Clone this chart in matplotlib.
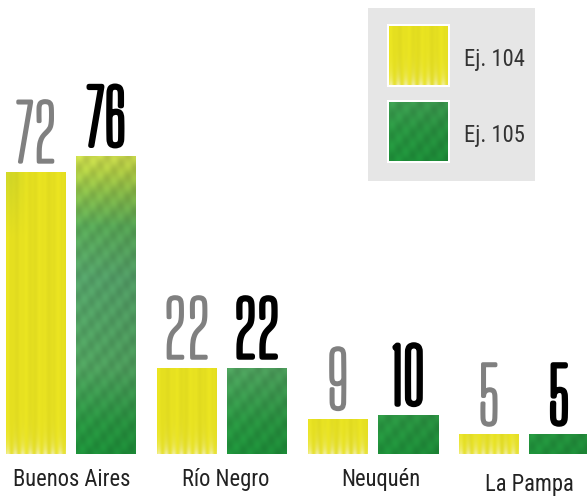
import numpy as np
import matplotlib
matplotlib.use('Agg')
import matplotlib.pyplot as plt
import matplotlib.patheffects as pe
from matplotlib.textpath import TextPath
from matplotlib.patches import Rectangle
from matplotlib.font_manager import FontProperties
from matplotlib.transforms import offset_copy

# Data
regions = ['Buenos Aires', 'Río Negro', 'Neuquén', 'La Pampa']
ej104 = [72, 22, 9, 5]
ej105 = [76, 22, 10, 5]
series_names = ['Ej. 104', 'Ej. 105']

W, H = 587, 500
fig = plt.figure(figsize=(W / 100, H / 100), dpi=100)
base = 454           # pixel row of the bar baseline
ppu = 298 / 76       # pixels per unit
step = 151           # pixels between groups
ax = fig.add_axes([0, (H - base) / H, 1, base / H])

x = np.arange(len(regions))
width = 60 / step
off = 35 / step

label_font = ['Roboto Condensed', 'Archivo Narrow', 'Liberation Sans Narrow', 'DejaVu Sans']
num_font = ['Big Shoulders Display', 'Antonio', 'DejaVu Sans']


def size_for(text, px, family, weight='normal'):
    # font size (pt) that makes the ink of `text` `px` pixels tall
    fp = FontProperties(family=family, weight=weight)
    h = TextPath((0, 0), text, size=1, prop=fp).get_extents().height
    return px / h * 0.72


def lerp_stops(v, stops):
    vs = [s[0] for s in stops]
    return np.stack([np.interp(v, vs, [s[1][c] for s in stops]) for c in range(3)], axis=-1)


def yellow_tex(w, h):
    U, P = np.meshgrid(np.arange(w) + 0.5, h - np.arange(h) - 0.5)
    V = P / ppu
    col = np.ones((h, w, 3)) * np.array([230, 224, 32])
    g = (np.clip(1 - U / 25, 0, 1) * np.clip((V - 55) / 15, 0, 1) * 0.6)[..., None]
    col = col * (1 - g) + np.array([190, 205, 45]) * g
    f = 1 + 0.015 * np.sin(2 * np.pi * U / 17 + 1.0) + 0.008 * np.sin(2 * np.pi * U / 6.3)
    col = col * f[..., None]
    p = (np.clip(np.exp(-P / 9) * (0.6 + 0.4 * np.sin(2 * np.pi * U / 7.5)), 0, 1) * 0.75)[..., None]
    col = col * (1 - p) + np.array([245, 243, 200]) * p
    return np.clip(col / 255, 0, 1)


def green_tex(w, h):
    U, P = np.meshgrid(np.arange(w) + 0.5, h - np.arange(h) - 0.5)
    V = P / ppu
    stops = [(0, (30, 145, 58)), (8, (42, 150, 66)), (22, (80, 162, 95)), (45, (85, 162, 105)),
             (58, (90, 170, 88)), (66, (135, 188, 75)), (72, (180, 208, 70)), (76, (205, 220, 78))]
    col = lerp_stops(V, stops)
    col = col * (1 - 0.07 * U / w)[..., None]
    f = 1 + 0.04 * np.sin(2 * np.pi * (U + 0.9 * (h - P)) / 19) + 0.02 * np.sin(2 * np.pi * (U - 0.5 * (h - P)) / 11)
    col = col * f[..., None]
    return np.clip(col / 255, 0, 1)


bars104 = ax.bar(x - off, ej104, width, color='#e6df1f', zorder=1)
bars105 = ax.bar(x + off, ej105, width, color='#2e9a48', zorder=1)
for bars, tex in ((bars104, yellow_tex), (bars105, green_tex)):
    for r in bars:
        x0, bw, bh = r.get_x(), r.get_width(), r.get_height()
        im = ax.imshow(tex(int(round(bw * step)), int(round(bh * ppu))),
                       extent=[x0, x0 + bw, 0, bh], aspect='auto',
                       interpolation='bilinear', zorder=2)
        im.set_clip_path(r)

ax.set_ylim(0, base / ppu)
ax.set_xlim(-71 / step, (W - 71) / step)
ax.axis('off')

# Value labels: thin condensed face, thickened with a stroke of the same colour
for xs, vals, color, lw_px in ((x - off, ej104, '#808080', 3.5), (x + off, ej105, '#000000', 4.8)):
    fs = size_for('0123456789', 65 - lw_px, num_font)
    tr = offset_copy(ax.transData, fig=fig, x=0, y=8 + lw_px / 2, units='dots')
    for xi, v in zip(xs, vals):
        ax.text(xi, v, str(v), transform=tr, ha='center', va='baseline', fontsize=fs,
                family=num_font, color=color,
                path_effects=[pe.withStroke(linewidth=lw_px * 0.72, foreground=color)])

# Category labels
fs_lab = size_for('B', 16, label_font)
nudges = [(1, 0), (4, 0), (8, 0), (5, 5)]
for xi, name, (dx, dy) in zip(x, regions, nudges):
    tr = offset_copy(ax.transData, fig=fig, x=dx, y=-32 - dy, units='dots')
    ax.text(xi, 0, name, transform=tr, ha='center', va='baseline', fontsize=fs_lab,
            family=label_font, color='#222222')

# Legend box
fig.add_artist(Rectangle((368 / W, 1 - 181 / H), (535 - 368) / W, (181 - 8) / H,
                         transform=fig.transFigure, facecolor='#e6e6e6', edgecolor='none', zorder=-2))
for i, (name, tex) in enumerate(zip(series_names, (yellow_tex, green_tex))):
    top = 26 + 76 * i
    fig.add_artist(Rectangle((387 / W, 1 - (top + 61) / H), 63 / W, 63 / H,
                             transform=fig.transFigure, facecolor='white', edgecolor='none', zorder=-1))
    sax = fig.add_axes([389 / W, 1 - (top + 59) / H, 59 / W, 59 / H])
    sax.set_zorder(3)
    sax.imshow(tex(59, 59), aspect='auto', interpolation='bilinear')
    sax.axis('off')
    fig.text(464 / W, 1 - (top + 40) / H, name, ha='left', va='baseline', fontsize=fs_lab,
             family=label_font, color='#333333')

fig.savefig('out.png', dpi=100)
